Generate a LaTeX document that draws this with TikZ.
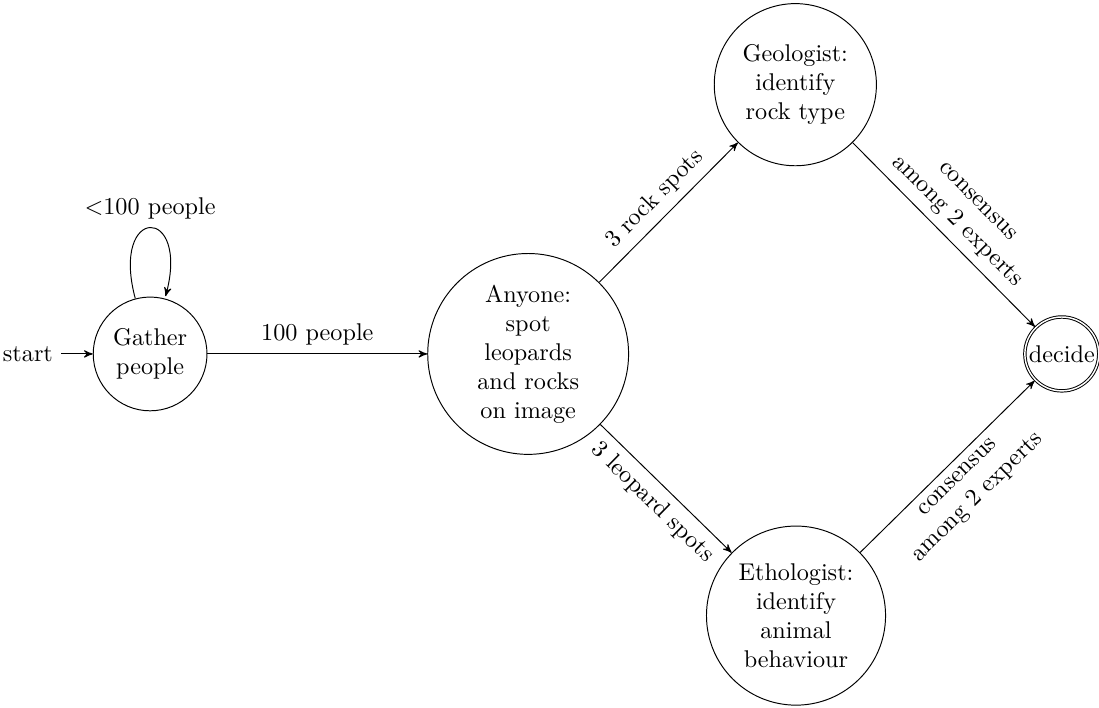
\documentclass[tikz,border=0pt]{standalone}
\usetikzlibrary{automata}
\usetikzlibrary{arrows}
\usetikzlibrary{positioning}

\begin{document}
\begin{tikzpicture}[>=stealth', auto, every state/.style={draw, circle, align=center, inner sep=1pt}, every loop/.append style={looseness=8.4}]
\useasboundingbox (-2.18,-5.14) rectangle (13.78,5.14);
\node[state, initial, initial text=start, minimum size=47pt] (gather) at (0,0) {Gather\\people};
\node[state, minimum size=83pt] (anyone) at (5.49,0) {Anyone:\\spot\\leopards\\and rocks\\on image};
\node[state, minimum size=67pt] (geo) at (9.37,3.91) {Geologist:\\identify\\rock type};
\node[state, minimum size=74pt] (etho) at (9.38,-3.80) {Ethologist:\\identify\\animal\\behaviour};
\node[state, accepting, minimum size=29pt] (decide) at (13.24,0) {decide};
\path[->] (gather) edge[loop above] node {<100 people} ()
                   edge node {100 people} (anyone)
          (anyone) edge node[sloped, above] {3 rock spots} (geo)
                   edge node[sloped, below] {3 leopard spots} (etho)
          (geo) edge node[sloped, above, align=center] {consensus\\among 2 experts} (decide)
          (etho) edge node[sloped, below, align=center] {consensus\\among 2 experts} (decide);
\end{tikzpicture}
\end{document}
